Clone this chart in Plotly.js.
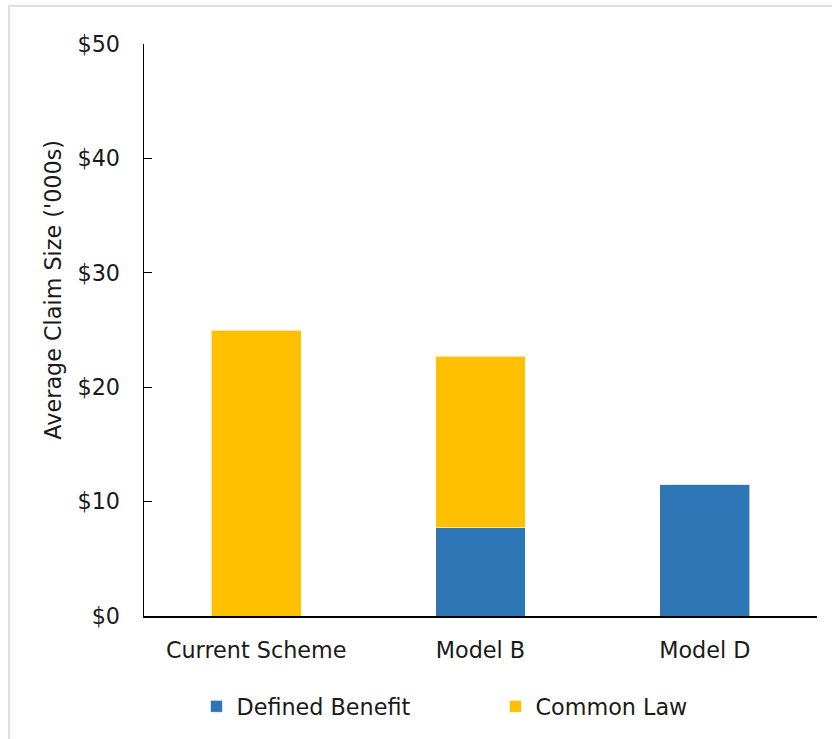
<!DOCTYPE html>
<html>
<head>
<meta charset="utf-8">
<script src="https://cdn.plot.ly/plotly-3.0.1.min.js"></script>
<style>
  html, body { margin: 0; padding: 0; background: #ffffff; overflow: hidden; }
  #frame { position: absolute; left: 8px; top: 5px; width: 900px; height: 800px;
           border: 2px solid #dedede; box-sizing: border-box; }
  #chart { position: absolute; left: 0; top: 0; width: 832px; height: 739px; }
</style>
</head>
<body>
<div id="frame"></div>
<div id="chart"></div>
<script>
const categories = ["Current Scheme", "Model B", "Model D"];
const definedBenefit = [0, 7.7, 11.5];
const commonLaw = [25.0, 15.0, 0];
const seriesNames = ["Defined Benefit", "Common Law"];
const yTickValues = [0, 10, 20, 30, 40, 50];
const yTickLabels = ["$0", "$10", "$20", "$30", "$40", "$50"];
const yAxisTitle = "Average Claim Size ('000s)";

const FONT = "DejaVu Sans, Liberation Sans, sans-serif";
const TXT = "#1a1a1a";

const traces = [
  {
    type: "bar", name: seriesNames[0], x: categories, y: definedBenefit,
    marker: { color: "#2E75B6", line: { color: "rgba(255,255,255,0.6)", width: 1 } },
    width: 0.4, hoverinfo: "x+y+name"
  },
  {
    type: "bar", name: seriesNames[1], x: categories, y: commonLaw,
    marker: { color: "#FFC000", line: { color: "rgba(255,255,255,0.6)", width: 1 } },
    width: 0.4, hoverinfo: "x+y+name"
  }
];

const layout = {
  width: 832, height: 739,
  margin: { l: 144, r: 15, t: 44, b: 120 },
  paper_bgcolor: "rgba(0,0,0,0)",
  plot_bgcolor: "rgba(0,0,0,0)",
  barmode: "stack",
  font: { family: FONT, size: 22.3, color: TXT },
  showlegend: true,
  legend: {
    orientation: "h", x: 0.078, xanchor: "left", y: -0.158, yanchor: "middle",
    font: { family: FONT, size: 22.3, color: TXT },
    traceorder: "normal", entrywidth: 254, bgcolor: "rgba(0,0,0,0)"
  },
  xaxis: {
    type: "category",
    showline: true, linecolor: "#000000", linewidth: 1.5,
    ticks: "", showgrid: false, zeroline: false,
    tickfont: { family: FONT, size: 22.3, color: TXT },
    ticklabelstandoff: 14
  },
  yaxis: {
    range: [0, 50], tickvals: yTickValues, ticktext: yTickLabels,
    showline: true, linecolor: "#000000", linewidth: 1.5,
    ticks: "inside", ticklen: 8, tickcolor: "#000000", tickwidth: 1,
    showgrid: false, zeroline: false,
    tickfont: { family: FONT, size: 22.3, color: TXT },
    ticklabelstandoff: 18
  },
  annotations: [
    {
      text: yAxisTitle, xref: "paper", yref: "paper",
      x: -0.1357, y: 0.570, xanchor: "center", yanchor: "middle",
      textangle: -90, showarrow: false,
      font: { family: FONT, size: 22.3, color: TXT }
    }
  ]
};

Plotly.newPlot("chart", traces, layout, { displayModeBar: false, staticPlot: true });
</script>
</body>
</html>
